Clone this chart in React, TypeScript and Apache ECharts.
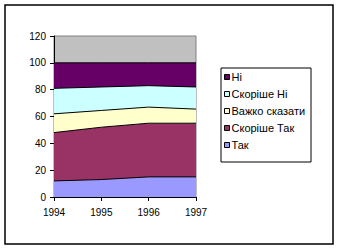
import React, { useEffect, useRef } from "react";
import * as echarts from "echarts";

const years = ["1994", "1995", "1996", "1997"];
const tak = [12, 13, 15, 15];
const skorisheTak = [36, 39, 40, 40];
const vazhko = [14, 12.5, 12, 10.5];
const skorisheNi = [19, 17.5, 16, 16.5];
const ni = [19, 18, 17, 18];

const seriesNames = ["Так", "Скоріше Так", "Важко сказати", "Скоріше Ні", "Ні"];
const seriesData = [tak, skorisheTak, vazhko, skorisheNi, ni];
const seriesColors = ["#9999FF", "#993366", "#FFFFCC", "#CCFFFF", "#660066"];
const legendOrder = ["Ні", "Скоріше Ні", "Важко сказати", "Скоріше Так", "Так"];

const FONT = "'Liberation Sans', Arial, sans-serif";

export default function App() {
  const ref = useRef<HTMLDivElement>(null);
  useEffect(() => {
    if (!ref.current) return;
    const chart = echarts.init(ref.current, null, { renderer: "svg" });
    chart.setOption({
      animation: false,
      backgroundColor: "#ffffff",
      textStyle: { fontFamily: FONT, color: "#000" },
      grid: {
        left: 54,
        right: 144,
        top: 36,
        bottom: 53,
        show: true,
        backgroundColor: "#C0C0C0",
        borderColor: "#808080",
        borderWidth: 1,
      },
      xAxis: {
        type: "category",
        data: years,
        boundaryGap: false,
        axisLine: { lineStyle: { color: "#000", width: 1 } },
        axisTick: { show: true, length: 4, inside: false, lineStyle: { color: "#000" } },
        axisLabel: { color: "#000", fontSize: 10, fontFamily: FONT, margin: 10 },
        splitLine: { show: false },
      },
      yAxis: {
        type: "value",
        min: 0,
        max: 120,
        interval: 20,
        axisLine: { show: true, lineStyle: { color: "#000", width: 1 } },
        axisTick: { show: true, length: 4, inside: false, lineStyle: { color: "#000" } },
        axisLabel: { color: "#000", fontSize: 10, fontFamily: FONT, margin: 8 },
        splitLine: { show: false },
      },
      legend: {
        orient: "vertical",
        left: 224,
        top: 71,
        padding: 0,
        itemGap: 5,
        itemWidth: 5,
        itemHeight: 5,
        icon: "rect",
        data: legendOrder,
        itemStyle: { borderColor: "#000", borderWidth: 1 },
        textStyle: { fontSize: 11, fontFamily: FONT, color: "#000", lineHeight: 12, padding: [0, 0, 0, -3] },
      },
      graphic: [
        {
          type: "rect",
          shape: { x: 5, y: 5, width: 328, height: 239 },
          style: { fill: "none", stroke: "#000", lineWidth: 1.5 },
          silent: true,
        },
        {
          type: "rect",
          shape: { x: 221, y: 68, width: 90, height: 94 },
          style: { fill: "#fff", stroke: "#000", lineWidth: 1 },
          silent: true,
          z: -1,
        },
      ],
      series: seriesNames.map((name, i) => ({
        name,
        type: "line",
        stack: "total",
        data: seriesData[i],
        symbol: "none",
        lineStyle: { color: "#000", width: 1 },
        itemStyle: { color: seriesColors[i] },
        areaStyle: { color: seriesColors[i], opacity: 1 },
      })),
    });
    return () => chart.dispose();
  }, []);
  return (
    <div
      ref={ref}
      style={{ position: "fixed", left: 0, top: 0, width: 340, height: 250 }}
    />
  );
}
